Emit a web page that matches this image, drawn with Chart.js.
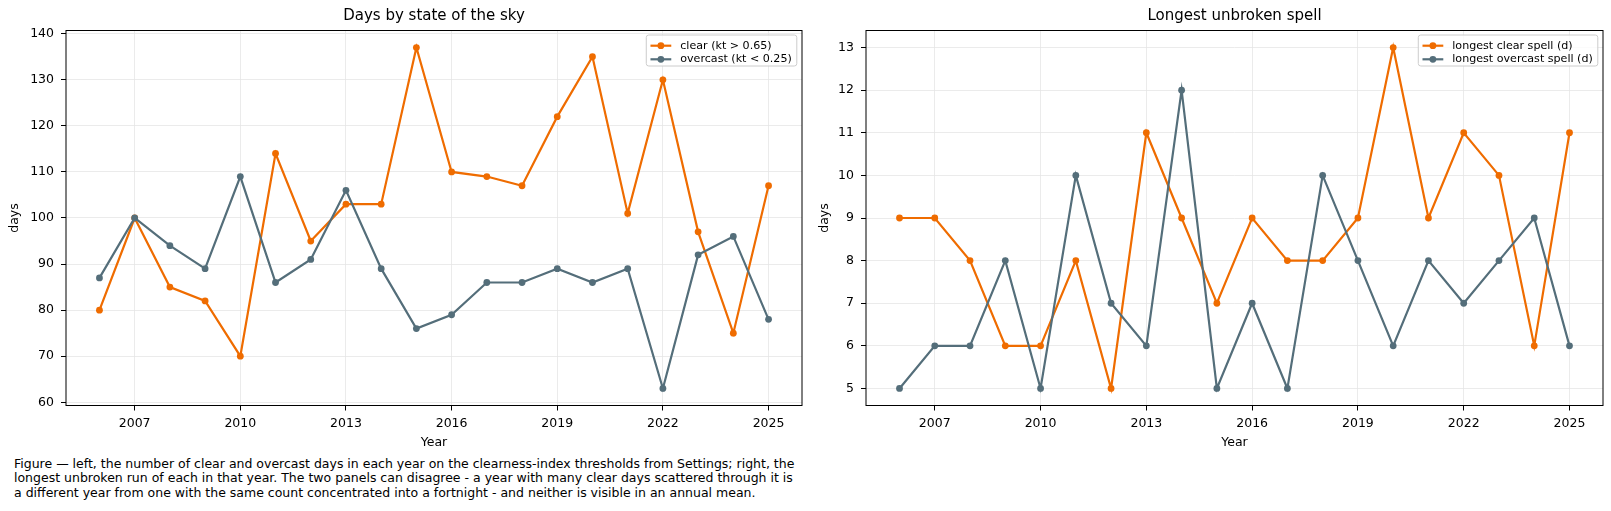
<!DOCTYPE html>
<html>
<head>
<meta charset="utf-8">
<script src="https://cdn.jsdelivr.net/npm/chart.js@4.4.1/dist/chart.umd.min.js"></script>
<style>
  body { margin: 0; background: #fff; width: 1611px; height: 511px; overflow: hidden; position: relative; }
  canvas { position: absolute; top: 0; }
  #skyChart { left: 0; }
  #spellChart { left: 810px; }
  #caption {
    position: absolute; left: 14px; top: 456.5px;
    font-family: "DejaVu Sans"; font-size: 12.5px; line-height: 14.6px;
    color: #000; white-space: nowrap;
  }
</style>
</head>
<body>
<canvas id="skyChart" width="810" height="450"></canvas>
<canvas id="spellChart" width="801" height="450"></canvas>
<div id="caption">Figure — left, the number of clear and overcast days in each year on the clearness-index thresholds from Settings; right, the<br>longest unbroken run of each in that year. The two panels can disagree - a year with many clear days scattered through it is<br>a different year from one with the same count concentrated into a fortnight - and neither is visible in an annual mean.</div>
<script>
var years = [2006, 2007, 2008, 2009, 2010, 2011, 2012, 2013, 2014, 2015,
             2016, 2017, 2018, 2019, 2020, 2021, 2022, 2023, 2024, 2025];
var clearDays    = [80, 100, 85, 82, 70, 114, 95, 103, 103, 137, 110, 109, 107, 122, 135, 101, 130, 97, 75, 107];
var overcastDays = [87, 100, 94, 89, 109, 86, 91, 106, 89, 76, 79, 86, 86, 89, 86, 89, 63, 92, 96, 78];
var clearSpell    = [9, 9, 8, 6, 6, 8, 5, 11, 9, 7, 9, 8, 8, 9, 13, 9, 11, 10, 6, 11];
var overcastSpell = [5, 6, 6, 8, 5, 10, 7, 6, 12, 5, 7, 5, 10, 8, 6, 8, 7, 8, 9, 6];

var yearTicks  = [2007, 2010, 2013, 2016, 2019, 2022, 2025];
var dayTicks   = [60, 70, 80, 90, 100, 110, 120, 130, 140];
var spellTicks = [5, 6, 7, 8, 9, 10, 11, 12, 13];

var ORANGE = '#ef6c00';
var SLATE = '#546e7a';
var GRID = '#e6e6e6';

Chart.defaults.font.family = '"DejaVu Sans"';
Chart.defaults.color = '#000';

// matplotlib-like box around the axes plus a framed legend in the upper right
var framePlugin = {
  id: 'frameLegend',
  afterDraw: function (chart) {
    var ctx = chart.ctx;
    var a = chart.chartArea;
    ctx.save();
    ctx.strokeStyle = '#000';
    ctx.lineWidth = 1;
    ctx.strokeRect(a.left, a.top, a.right - a.left, a.bottom - a.top);

    ctx.font = '11.1px "DejaVu Sans"';
    var sets = chart.data.datasets;
    var maxW = 0;
    sets.forEach(function (ds) { maxW = Math.max(maxW, ctx.measureText(ds.label).width); });
    var w = 34 + maxW + 5;
    var h = 31;
    var x0 = a.right - 5.2 - w;
    var y0 = a.top + 4.5;
    ctx.beginPath();
    ctx.roundRect(x0, y0, w, h, 2.5);
    ctx.fillStyle = 'rgba(255,255,255,0.8)';
    ctx.fill();
    ctx.strokeStyle = '#cccccc';
    ctx.stroke();

    sets.forEach(function (ds, i) {
      var cy = y0 + 10.7 + i * 13.6;
      ctx.strokeStyle = ds.borderColor;
      ctx.lineWidth = ds.borderWidth;
      ctx.beginPath();
      ctx.moveTo(x0 + 4.2, cy);
      ctx.lineTo(x0 + 25, cy);
      ctx.stroke();
      ctx.fillStyle = ds.borderColor;
      ctx.beginPath();
      ctx.arc(x0 + 14.6, cy, ds.pointRadius, 0, Math.PI * 2);
      ctx.fill();
      ctx.fillStyle = '#000';
      ctx.textBaseline = 'middle';
      ctx.textAlign = 'left';
      ctx.fillText(ds.label, x0 + 34, cy);
    });
    ctx.restore();
  }
};

function series(label, values, color, order) {
  return {
    label: label,
    data: years.map(function (y, i) { return { x: y, y: values[i] }; }),
    borderColor: color,
    backgroundColor: color,
    pointBackgroundColor: color,
    pointBorderWidth: 0,
    borderWidth: 2.2,
    pointRadius: 3.4,
    tension: 0,
    order: order
  };
}

function makeChart(id, title, datasets, yTicks, yMin, yMax, yWidth) {
  return new Chart(document.getElementById(id), {
    type: 'line',
    data: { datasets: datasets },
    plugins: [framePlugin],
    options: {
      responsive: false,
      animation: false,
      layout: { padding: { left: 0, right: 8, top: 0, bottom: 0 } },
      plugins: {
        legend: { display: false },
        tooltip: { enabled: false },
        title: {
          display: true,
          text: title,
          fullSize: false,
          color: '#000',
          font: { size: 15, weight: 'normal' },
          padding: { top: 7, bottom: 5.5 }
        }
      },
      scales: {
        x: {
          type: 'linear',
          min: 2005.05,
          max: 2025.95,
          afterBuildTicks: function (s) { s.ticks = yearTicks.map(function (v) { return { value: v }; }); },
          afterFit: function (s) { s.height = 44.5; },
          border: { display: false },
          grid: { color: GRID, lineWidth: 0.8, tickColor: '#000', tickLength: 5, tickWidth: 1 },
          ticks: {
            autoSkip: false, maxRotation: 0, padding: 6,
            font: { size: 12.5 },
            callback: function (v) { return String(v); }
          },
          title: { display: true, text: 'Year', font: { size: 12.5 }, padding: { top: 0, bottom: 0 } }
        },
        y: {
          min: yMin,
          max: yMax,
          afterBuildTicks: function (s) { s.ticks = yTicks.map(function (v) { return { value: v }; }); },
          afterFit: function (s) { s.width = yWidth; },
          border: { display: false },
          grid: { color: GRID, lineWidth: 0.8, tickColor: '#000', tickLength: 5, tickWidth: 1 },
          ticks: {
            padding: 7,
            font: { size: 12.5 },
            callback: function (v) { return String(v); }
          },
          title: { display: true, text: 'days', font: { size: 12.5 }, padding: { top: 7, bottom: 0 } }
        }
      }
    }
  });
}

makeChart('skyChart', 'Days by state of the sky', [
  series('clear (kt > 0.65)', clearDays, ORANGE, 2),
  series('overcast (kt < 0.25)', overcastDays, SLATE, 1)
], dayTicks, 59.3, 140.7, 66);

makeChart('spellChart', 'Longest unbroken spell', [
  series('longest clear spell (d)', clearSpell, ORANGE, 2),
  series('longest overcast spell (d)', overcastSpell, SLATE, 1)
], spellTicks, 4.6, 13.4, 56);
</script>
</body>
</html>
